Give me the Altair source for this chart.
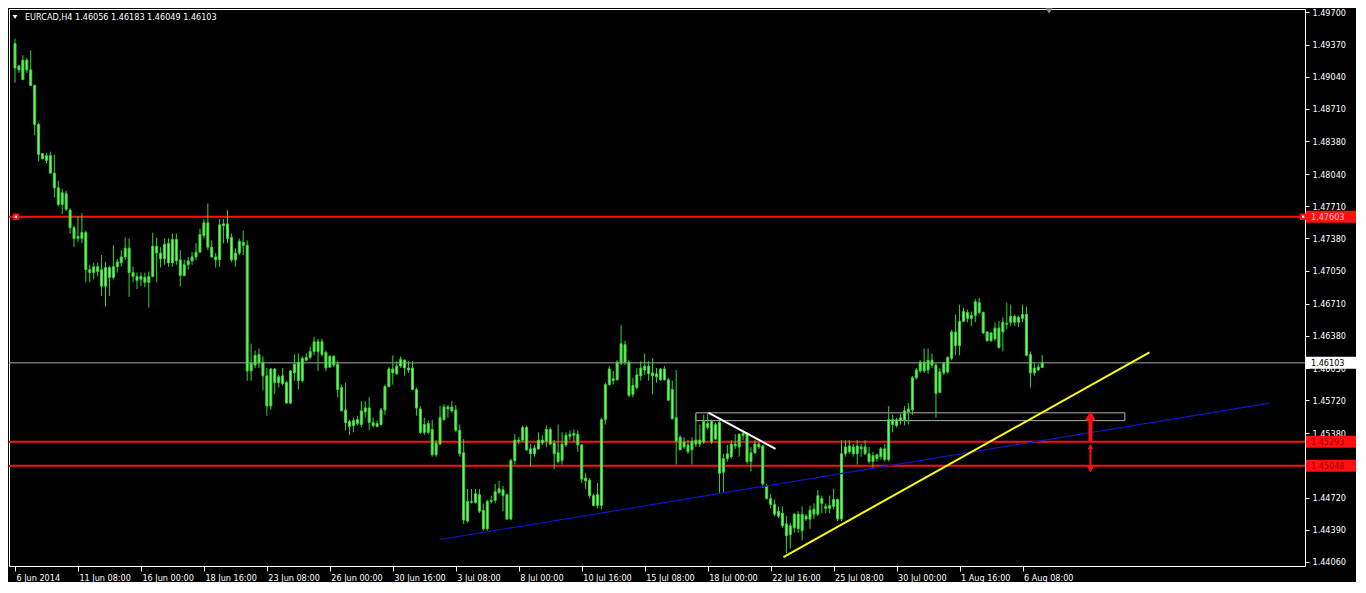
import json
import altair as alt
import pandas as pd

# ---------------- data (prices of EURCAD H4, in pips = 1e-4) ----------------
symbol = "EURCAD"
timeframe = "H4"

opens = [
    14938, 14915, 14901, 14921, 14911, 14895, 14855, 14825, 14818, 14823,
    14805, 14790, 14773, 14784, 14767, 14749, 14738, 14738, 14744, 14706,
    14703, 14709, 14706, 14689, 14708, 14698, 14709, 14713, 14719, 14728,
    14703, 14699, 14696, 14698, 14693, 14699, 14730, 14723, 14717, 14733,
    14713, 14737, 14716, 14700, 14711, 14715, 14719, 14724, 14741, 14754,
    14729, 14719, 14716, 14753, 14738, 14739, 14716, 14723, 14734, 14731,
    14602, 14608, 14610, 14611, 14597, 14566, 14604, 14596, 14589, 14590,
    14569, 14600, 14611, 14592, 14613, 14616, 14622, 14632, 14619, 14621,
    14606, 14617, 14609, 14585, 14562, 14550, 14546, 14548, 14547, 14560,
    14564, 14549, 14545, 14547, 14562, 14586, 14604, 14599, 14607, 14613,
    14605, 14605, 14583, 14563, 14539, 14548, 14542, 14516, 14527, 14552,
    14565, 14561, 14562, 14541, 14518, 14448, 14468, 14467, 14475, 14459,
    14440, 14468, 14469, 14477, 14480, 14475, 14450, 14510, 14531, 14531,
    14544, 14522, 14517, 14522, 14531, 14530, 14542, 14528, 14518, 14510,
    14526, 14535, 14538, 14537, 14526, 14492, 14490, 14474, 14464, 14464,
    14552, 14588, 14594, 14593, 14610, 14629, 14611, 14578, 14585, 14597,
    14603, 14607, 14600, 14596, 14593, 14604, 14593, 14583, 14554, 14534,
    14524, 14526, 14521, 14527, 14531, 14529, 14548, 14550, 14532, 14549,
    14498, 14512, 14514, 14527, 14524, 14538, 14538, 14509, 14518, 14527,
    14525, 14484, 14471, 14465, 14458, 14456, 14445, 14434, 14441, 14455,
    14438, 14453, 14450, 14455, 14455, 14471, 14463, 14461, 14463, 14470,
    14450, 14517, 14525, 14524, 14517, 14522, 14524, 14517, 14509, 14512,
    14514, 14522, 14511, 14552, 14546, 14551, 14552, 14560, 14562, 14595,
    14602, 14611, 14603, 14613, 14608, 14580, 14600, 14601, 14615, 14642,
    14628, 14653, 14662, 14656, 14659, 14672, 14662, 14642, 14633, 14635,
    14646, 14642, 14650, 14652, 14658, 14652, 14656, 14660, 14619, 14600,
    14606, 14605.6,
]
highs = [
    14943, 14916, 14926, 14923, 14931, 14896, 14857, 14825, 14826, 14827,
    14824, 14797, 14789, 14787, 14769, 14751, 14761, 14764, 14746, 14711,
    14713, 14713, 14721, 14714, 14710, 14731, 14717, 14726, 14739, 14738,
    14709, 14703, 14703, 14703, 14704, 14744, 14739, 14729, 14738, 14738,
    14743, 14743, 14726, 14716, 14719, 14724, 14733, 14748, 14758, 14774,
    14736, 14723, 14758, 14758, 14767, 14743, 14728, 14738, 14746, 14736,
    14630, 14623, 14625, 14617, 14605, 14605, 14605, 14598, 14605, 14592,
    14603, 14619, 14620, 14617, 14620, 14627, 14637, 14635, 14635, 14623,
    14618, 14618, 14612, 14588, 14590, 14552, 14554, 14556, 14571, 14571,
    14575, 14554, 14551, 14564, 14588, 14606, 14618, 14612, 14617, 14614,
    14612, 14612, 14585, 14566, 14554, 14551, 14552, 14531, 14566, 14568,
    14567, 14571, 14567, 14547, 14532, 14481, 14481, 14481, 14481, 14466,
    14470, 14474, 14486, 14489, 14484, 14476, 14512, 14537, 14534, 14546,
    14546, 14527, 14526, 14539, 14536, 14546, 14544, 14531, 14547, 14539,
    14539, 14541, 14542, 14541, 14527, 14497, 14492, 14476, 14487, 14554,
    14590, 14607, 14602, 14613, 14649, 14633, 14613, 14595, 14605, 14612,
    14620, 14612, 14615, 14605, 14605, 14607, 14595, 14592, 14603, 14536,
    14534, 14531, 14534, 14557, 14547, 14557, 14559, 14552, 14549, 14551,
    14517, 14526, 14531, 14537, 14538, 14541, 14539, 14524, 14531, 14529,
    14526, 14486, 14476, 14470, 14463, 14463, 14453, 14446, 14456, 14458,
    14463, 14455, 14464, 14466, 14480, 14474, 14466, 14474, 14481, 14471,
    14531, 14531, 14531, 14527, 14531, 14527, 14531, 14524, 14519, 14517,
    14524, 14527, 14566, 14557, 14554, 14558, 14566, 14569, 14597, 14605,
    14613, 14625, 14625, 14620, 14610, 14605, 14611, 14617, 14644, 14660,
    14670, 14667, 14665, 14663, 14676, 14677, 14663, 14643, 14642, 14652,
    14653, 14657, 14672, 14670, 14660, 14659, 14670, 14668, 14622, 14610,
    14609, 14618.3,
]
lows = [
    14898, 14908, 14901, 14908, 14895, 14844, 14817, 14819, 14815, 14805,
    14780, 14771, 14763, 14766, 14743, 14729, 14734, 14733, 14693, 14693,
    14696, 14699, 14679, 14668, 14679, 14696, 14703, 14709, 14716, 14678,
    14693, 14686, 14689, 14688, 14667, 14698, 14693, 14708, 14711, 14709,
    14709, 14711, 14689, 14699, 14706, 14711, 14716, 14723, 14738, 14726,
    14718, 14708, 14709, 14733, 14733, 14714, 14709, 14721, 14721, 14592,
    14592, 14605, 14605, 14582, 14556, 14562, 14578, 14585, 14587, 14569,
    14568, 14592, 14583, 14590, 14612, 14614, 14618, 14602, 14617, 14602,
    14605, 14606, 14575, 14561, 14541, 14536, 14539, 14546, 14544, 14554,
    14541, 14544, 14544, 14546, 14557, 14585, 14588, 14598, 14605, 14597,
    14600, 14582, 14556, 14537, 14536, 14537, 14514, 14514, 14526, 14551,
    14554, 14559, 14539, 14514, 14445, 14446, 14466, 14466, 14456, 14438,
    14438, 14466, 14466, 14476, 14458, 14449, 14449, 14506, 14527, 14529,
    14520, 14504, 14514, 14521, 14526, 14524, 14526, 14501, 14507, 14506,
    14524, 14531, 14529, 14519, 14487, 14481, 14471, 14463, 14461, 14460,
    14547, 14587, 14588, 14592, 14608, 14608, 14575, 14575, 14583, 14592,
    14598, 14592, 14578, 14590, 14592, 14592, 14571, 14552, 14506, 14521,
    14522, 14517, 14506, 14524, 14524, 14527, 14542, 14527, 14531, 14477,
    14477, 14509, 14512, 14522, 14514, 14531, 14507, 14499, 14517, 14522,
    14482, 14470, 14461, 14453, 14451, 14441, 14415, 14420, 14436, 14436,
    14428, 14448, 14440, 14450, 14453, 14456, 14456, 14456, 14460, 14448,
    14448, 14514, 14517, 14514, 14506, 14514, 14516, 14507, 14502, 14509,
    14511, 14509, 14509, 14539, 14544, 14547, 14546, 14547, 14557, 14593,
    14600, 14600, 14599, 14605, 14554, 14579, 14598, 14599, 14613, 14618,
    14618, 14652, 14652, 14648, 14652, 14660, 14640, 14632, 14632, 14633,
    14625, 14622, 14645, 14648, 14648, 14647, 14652, 14617, 14585, 14597,
    14602, 14604.9,
]
closes = [
    14913, 14911, 14921, 14911, 14895, 14855, 14824, 14820, 14823, 14805,
    14790, 14773, 14785, 14768, 14749, 14738, 14740, 14744, 14706, 14703,
    14709, 14704, 14689, 14708, 14698, 14709, 14714, 14719, 14728, 14703,
    14699, 14695, 14699, 14693, 14699, 14730, 14723, 14717, 14732, 14713,
    14737, 14715, 14700, 14711, 14715, 14719, 14724, 14742, 14754, 14729,
    14719, 14716, 14752, 14751, 14753, 14716, 14723, 14735, 14731, 14602,
    14610, 14618, 14619, 14597, 14566, 14604, 14590, 14590, 14597, 14569,
    14602, 14609, 14592, 14615, 14616, 14622, 14632, 14622, 14632, 14605,
    14617, 14608, 14583, 14561, 14549, 14545, 14551, 14552, 14561, 14564,
    14549, 14546, 14548, 14562, 14586, 14604, 14600, 14607, 14614, 14605,
    14603, 14583, 14564, 14539, 14547, 14539, 14516, 14528, 14554, 14565,
    14563, 14565, 14541, 14517, 14449, 14468, 14467, 14476, 14458, 14440,
    14468, 14469, 14478, 14481, 14474, 14450, 14510, 14531, 14530, 14544,
    14521, 14517, 14523, 14531, 14528, 14542, 14527, 14517, 14509, 14527,
    14536, 14537, 14536, 14526, 14491, 14489, 14474, 14464, 14475, 14552,
    14588, 14604, 14592, 14611, 14630, 14611, 14577, 14587, 14598, 14605,
    14607, 14599, 14597, 14599, 14604, 14593, 14572, 14553, 14530, 14521,
    14529, 14519, 14530, 14531, 14527, 14550, 14544, 14529, 14547, 14497,
    14512, 14517, 14527, 14525, 14537, 14536, 14509, 14518, 14527, 14524,
    14486, 14471, 14465, 14455, 14453, 14443, 14433, 14443, 14455, 14440,
    14455, 14450, 14459, 14460, 14474, 14466, 14461, 14464, 14470, 14450,
    14517, 14524, 14519, 14517, 14525, 14524, 14517, 14509, 14515, 14516,
    14522, 14511, 14552, 14547, 14552, 14554, 14561, 14563, 14595, 14603,
    14611, 14602, 14613, 14608, 14579, 14601, 14610, 14616, 14642, 14628,
    14653, 14663, 14656, 14659, 14673, 14662, 14641, 14633, 14641, 14646,
    14626, 14652, 14651, 14658, 14652, 14657, 14660, 14618, 14600, 14605,
    14603, 14610.3,
]

xtick_bars = [0, 16, 32, 48, 64, 80, 96, 112, 128, 144, 160, 176, 192, 208, 224, 240, 256]
xtick_labels = ["6 Jun 2014", "11 Jun 08:00", "16 Jun 00:00", "18 Jun 16:00", "23 Jun 08:00",
                "26 Jun 00:00", "30 Jun 16:00", "3 Jul 08:00", "8 Jul 00:00", "10 Jul 16:00",
                "15 Jul 08:00", "18 Jul 00:00", "22 Jul 16:00", "25 Jul 08:00", "30 Jul 00:00",
                "1 Aug 16:00", "6 Aug 08:00"]
ytick_values = [1.49700, 1.49370, 1.49040, 1.48710, 1.48380, 1.48040, 1.47710, 1.47380,
                1.47050, 1.46710, 1.46380, 1.46050, 1.45720, 1.45380, 1.45050, 1.44720,
                1.44390, 1.44060]

red_levels = [1.47603, 1.45293, 1.45048]
red_label_text = ["#ffc8c8", "#a00000", "#a00000"]

# trend lines: blue channel, yellow support, white short resistance
trend_x1 = [108, 195.25, 176.25]
trend_p1 = [1.4429, 1.4411, 1.4559]
trend_x2 = [318.75, 288.25, 193.25]
trend_p2 = [1.4569, 1.4621, 1.4522]
trend_colors = ["#1414c8", "#ffff00", "#ffffff"]
trend_widths = [1.2, 2, 2]

# grey rectangle zone
zone_x = [173, 282]
zone_p = [1.4559, 1.4551]

# red arrows
arrow_bar = 273.25
arrow_up_shaft = [1.4529, 1.4553]
arrow_up_tip = 1.4556
arrow_dn_shaft = [1.4500, 1.4526]
arrow_dn_top = 1.4524
arrow_dn_tip = 1.4501

chart_shift_bar = 262.75

# ---------------- chart ----------------
W, H = 1296, 557
FONT = "DejaVu Sans Condensed, Liberation Sans, sans-serif"
GREEN = "#34d634"
BODY = "#86f07a"

n = len(opens)
candles = pd.DataFrame({
    "bar": list(range(n)),
    "open": [v / 10000 for v in opens],
    "high": [v / 10000 for v in highs],
    "low": [v / 10000 for v in lows],
    "close": [v / 10000 for v in closes],
})

xs = alt.Scale(domain=[-0.25, 326.5], nice=False, zero=False)
ys = alt.Scale(domain=[1.44018, 1.49735], nice=False, zero=False)

label_expr = json.dumps(xtick_labels) + "[round(datum.value / 16)]"
xaxis = alt.Axis(values=xtick_bars, labelExpr=label_expr, labelAlign="left", labelOffset=1,
                 tickSize=5, labelPadding=2, title=None, labelOverlap=False, labelFlush=False)
yaxis = alt.Axis(orient="right", values=ytick_values, format=".5f", tickSize=4, labelPadding=3,
                 title=None, labelOverlap=False, labelFlush=False)


def X(field):
    return alt.X(field, type="quantitative", scale=xs, axis=xaxis)


def Y(field):
    return alt.Y(field, type="quantitative", scale=ys, axis=yaxis)


hl = pd.DataFrame({
    "price": red_levels + [closes[-1] / 10000],
    "color": ["#ff1010"] * len(red_levels) + ["#a8a8a8"],
    "w": [2] * len(red_levels) + [1],
})
hlines = alt.Chart(hl).mark_rule().encode(
    y=Y("price"),
    color=alt.Color("color:N", scale=None),
    strokeWidth=alt.StrokeWidth("w:Q", scale=None),
)

zone = alt.Chart(pd.DataFrame({"x1": [zone_x[0]], "x2": [zone_x[1]],
                               "p1": [zone_p[0]], "p2": [zone_p[1]]})).mark_rect(
    fillOpacity=0, stroke="#b4b4b4", strokeWidth=1
).encode(x=X("x1"), x2="x2", y=Y("p1"), y2="p2")

wicks = alt.Chart(candles).mark_rule(color=GREEN, strokeWidth=1).encode(
    x=X("bar"), y=Y("low"), y2="high")
bodies = alt.Chart(candles).mark_bar(size=2, fill=BODY, stroke=GREEN, strokeWidth=1).encode(
    x=X("bar"), y=Y("open"), y2="close")

tl = pd.DataFrame({"x1": trend_x1, "p1": trend_p1, "x2": trend_x2, "p2": trend_p2,
                   "color": trend_colors, "w": trend_widths})
trends = alt.Chart(tl).mark_rule(strokeCap="butt").encode(
    x=X("x1"), x2="x2", y=Y("p1"), y2="p2",
    color=alt.Color("color:N", scale=None),
    strokeWidth=alt.StrokeWidth("w:Q", scale=None),
)

shafts = pd.DataFrame({"bar": [arrow_bar, arrow_bar],
                       "p1": [arrow_up_shaft[0], arrow_dn_shaft[0]],
                       "p2": [arrow_up_shaft[1], arrow_dn_shaft[1]],
                       "w": [4, 2]})
arrow_shafts = alt.Chart(shafts).mark_rule(color="#ff1010").encode(
    x=X("bar"), y=Y("p1"), y2="p2", strokeWidth=alt.StrokeWidth("w:Q", scale=None))
heads = pd.DataFrame({"bar": [arrow_bar] * 3,
                      "p": [arrow_up_tip, arrow_dn_top, arrow_dn_tip],
                      "shape": ["triangle-up", "triangle-up", "triangle-down"],
                      "s": [120, 30, 50]})
arrow_heads = alt.Chart(heads).mark_point(filled=True, color="#ff1010", opacity=1, strokeWidth=0).encode(
    x=X("bar"), y=Y("p"),
    shape=alt.Shape("shape:N", scale=None),
    size=alt.Size("s:Q", scale=None),
)

ends = pd.DataFrame({"bar": [0.25, 327.3], "p": [red_levels[0]] * 2})
end_sq = alt.Chart(ends).mark_point(shape="square", filled=True, color="#ff1010", size=42,
                                    opacity=1, strokeWidth=0).encode(x=X("bar"), y=Y("p"))
end_dot = alt.Chart(ends).mark_point(shape="square", filled=True, color="#ffffff", size=5,
                                     opacity=1, strokeWidth=0).encode(x=X("bar"), y=Y("p"))

lab = pd.DataFrame({
    "p": red_levels + [closes[-1] / 10000],
    "bg": ["#ff1010"] * len(red_levels) + ["#ffffff"],
    "fg": red_label_text + ["#000000"],
})
lab["t"] = [f"{v:.5f}" for v in lab["p"]]
box_path = "M-1,-0.24H1V0.24H-1Z"
label_boxes = alt.Chart(lab).mark_point(shape=box_path, filled=True, size=2500, opacity=1,
                                        strokeWidth=0).encode(
    x=alt.value(W + 26), y=Y("p"), color=alt.Color("bg:N", scale=None))
label_texts = alt.Chart(lab).mark_text(align="left", baseline="middle", font=FONT,
                                       fontSize=9).encode(
    x=alt.value(W + 6), y=Y("p"), text="t:N", color=alt.Color("fg:N", scale=None))

header = f"{symbol},{timeframe}  {opens[-1]/10000:.5f} {highs[-1]/10000:.5f} {lows[-1]/10000:.5f} {closes[-1]/10000:.5f}"
head_text = alt.Chart(pd.DataFrame({"t": [header]})).mark_text(
    align="left", baseline="middle", font=FONT, fontSize=9, color="#ffffff"
).encode(x=alt.value(16), y=alt.value(8), text="t:N")
head_tri = alt.Chart(pd.DataFrame({"t": [0]})).mark_point(
    shape="triangle-down", filled=True, color="#ffffff", size=22, opacity=1, strokeWidth=0
).encode(x=alt.value(6), y=alt.value(8))
shift_tri = alt.Chart(pd.DataFrame({"bar": [chart_shift_bar]})).mark_point(
    shape="triangle-down", filled=True, color="#8c8c8c", size=40, opacity=1, strokeWidth=0
).encode(x=X("bar"), y=alt.value(2))

chart = alt.layer(
    hlines, zone, wicks, bodies, trends, arrow_shafts, arrow_heads,
    end_sq, end_dot, label_boxes, label_texts, head_tri, head_text, shift_tri,
).properties(
    width=W, height=H, background="#000000",
    padding={"left": 0, "top": 0, "right": 0, "bottom": 0},
).configure_view(
    stroke="#ffffff", strokeWidth=1
).configure_axis(
    labelFont=FONT, labelFontSize=9, labelColor="#ffffff", tickColor="#ffffff",
    domain=False, grid=False,
)

chart.save("out.html", embed_options={"renderer": "svg", "actions": False})
